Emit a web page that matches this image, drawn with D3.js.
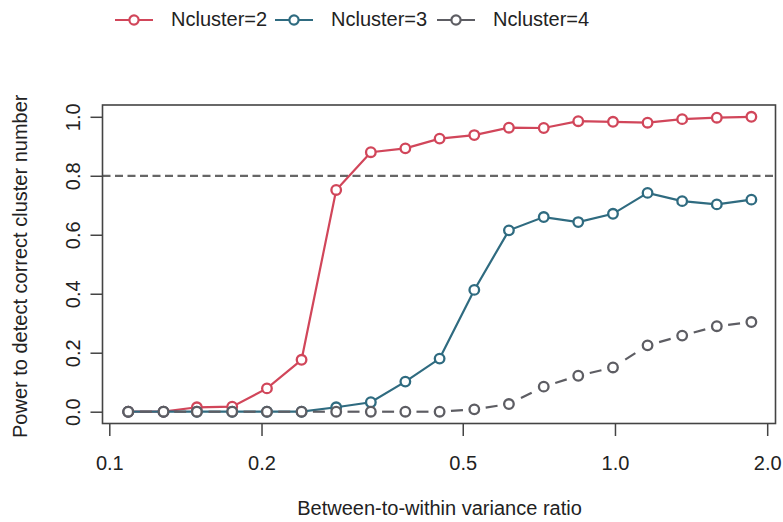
<!DOCTYPE html>
<html>
<head>
<meta charset="utf-8">
<script src="https://cdn.jsdelivr.net/npm/d3@7/dist/d3.min.js"></script>
<style>
  html, body { margin: 0; padding: 0; background: #fff; }
  svg { display: block; font-family: "Liberation Sans", Arial, sans-serif; }
</style>
</head>
<body>
<svg id="chart" width="783" height="522"></svg>
<script>
// Between-to-within variance ratios (x) and detection power for each cluster count
const ratios = [0.109, 0.128, 0.149, 0.175, 0.205, 0.240, 0.281, 0.329, 0.385, 0.450,
                0.527, 0.617, 0.723, 0.846, 0.991, 1.160, 1.358, 1.590, 1.861];
const power2 = [0.000, 0.000, 0.015, 0.017, 0.079, 0.176, 0.752, 0.880, 0.893, 0.926,
                0.938, 0.963, 0.962, 0.985, 0.983, 0.980, 0.992, 0.997, 1.000];
const power3 = [0.000, 0.000, 0.000, 0.000, 0.000, 0.000, 0.015, 0.032, 0.102, 0.180,
                0.413, 0.615, 0.660, 0.643, 0.671, 0.742, 0.714, 0.703, 0.719];
const power4 = [0.000, 0.000, 0.000, 0.000, 0.000, 0.000, 0.000, 0.000, 0.000, 0.000,
                0.008, 0.026, 0.085, 0.122, 0.150, 0.225, 0.258, 0.290, 0.304];
const seriesNames = ["Ncluster=2", "Ncluster=3", "Ncluster=4"];
const seriesColors = ["#d1465a", "#2f6b80", "#5d5d63"];
const xTickValues = [0.1, 0.2, 0.5, 1.0, 2.0];
const yTickValues = [0.0, 0.2, 0.4, 0.6, 0.8, 1.0];
const threshold = 0.8;

const svg = d3.select("#chart");
const box = { left: 102.5, right: 775.5, top: 105, bottom: 423.5 };

// log x scale padded by 4% of the data range on each side
const lx0 = Math.log10(ratios[0]), lx1 = Math.log10(ratios[ratios.length - 1]);
const padX = 0.04 * (lx1 - lx0);
const x = d3.scaleLog()
  .domain([Math.pow(10, lx0 - padX), Math.pow(10, lx1 + padX)])
  .range([box.left + 0.8, box.right + 0.8]);
const y = d3.scaleLinear().domain([-0.04, 1.04]).range([box.bottom, box.top]);

const fmt = d3.format(".1f");

// x axis
const xAxis = d3.axisBottom(x).tickValues(xTickValues).tickFormat(fmt).tickSize(12.5).tickPadding(20);
const gx = svg.append("g").attr("transform", `translate(0,${box.bottom})`).call(xAxis);
gx.select(".domain").remove();
gx.selectAll(".tick line").attr("stroke", "#444").attr("stroke-width", 1.5);
gx.selectAll(".tick text").attr("font-size", 20).attr("fill", "#222");

// y axis with rotated labels
const yAxis = d3.axisLeft(y).tickValues(yTickValues).tickFormat(fmt).tickSize(12).tickPadding(0);
const gy = svg.append("g").attr("transform", `translate(${box.left},0)`).call(yAxis);
gy.select(".domain").remove();
gy.selectAll(".tick line").attr("stroke", "#444").attr("stroke-width", 1.5);
gy.selectAll(".tick text")
  .attr("font-size", 20).attr("fill", "#222")
  .attr("x", null).attr("dy", null)
  .attr("text-anchor", "middle")
  .attr("transform", "translate(-22.5,0) rotate(-90)");

// threshold line
svg.append("line")
  .attr("x1", box.left).attr("x2", box.right)
  .attr("y1", y(threshold)).attr("y2", y(threshold))
  .attr("stroke", "#666").attr("stroke-width", 2.2)
  .attr("stroke-dasharray", "8,4.5");

// plot box
svg.append("rect")
  .attr("x", box.left).attr("y", box.top)
  .attr("width", box.right - box.left).attr("height", box.bottom - box.top)
  .attr("fill", "none").attr("stroke", "#444").attr("stroke-width", 1.6);

const seriesData = [power2, power3, power4].map((vals, i) => ({
  name: seriesNames[i], color: seriesColors[i], dashed: i === 2,
  pts: vals.map((v, j) => ({ x: ratios[j], y: v }))
}));

const line = d3.line().x(d => x(d.x)).y(d => y(d.y));

// series drawn in order, later ones on top
seriesData.forEach(s => {
  const g = svg.append("g");
  if (!s.dashed) {
    g.append("path").attr("d", line(s.pts))
      .attr("fill", "none").attr("stroke", s.color).attr("stroke-width", 2.2);
  } else {
    // one centred dash on each segment between markers
    const dashLen = 12;
    for (let k = 0; k < s.pts.length - 1; k++) {
      const ax = x(s.pts[k].x), ay = y(s.pts[k].y);
      const bx = x(s.pts[k + 1].x), by = y(s.pts[k + 1].y);
      const L = Math.hypot(bx - ax, by - ay);
      const t0 = (L - dashLen) / 2 / L, t1 = 1 - t0;
      g.append("line")
        .attr("x1", ax + (bx - ax) * t0).attr("y1", ay + (by - ay) * t0)
        .attr("x2", ax + (bx - ax) * t1).attr("y2", ay + (by - ay) * t1)
        .attr("stroke", s.color).attr("stroke-width", 2.2);
    }
  }
  g.selectAll("circle").data(s.pts).join("circle")
    .attr("cx", d => x(d.x)).attr("cy", d => y(d.y)).attr("r", 4.8)
    .attr("fill", "#fff").attr("stroke", s.color).attr("stroke-width", 2.3);
});

// legend
const legendX = [115, 275, 437];
seriesData.forEach((s, i) => {
  const g = svg.append("g").attr("transform", `translate(${legendX[i]},20)`);
  g.append("line").attr("x1", 0).attr("x2", 38).attr("y1", 0).attr("y2", 0)
    .attr("stroke", s.color).attr("stroke-width", 2.2);
  g.append("circle").attr("cx", 19).attr("cy", 0).attr("r", 4.6)
    .attr("fill", "#fff").attr("stroke", s.color).attr("stroke-width", 2.2);
  g.append("text").attr("x", 56).attr("y", 5.8)
    .attr("font-size", 20).attr("fill", "#222").text(s.name);
});

// axis titles
svg.append("text")
  .attr("x", (box.left + box.right) / 2 + 0.5).attr("y", 515)
  .attr("text-anchor", "middle").attr("font-size", 20).attr("fill", "#222")
  .text("Between-to-within variance ratio");
svg.append("text")
  .attr("transform", `translate(27,${(box.top + box.bottom) / 2 + 2}) rotate(-90)`)
  .attr("text-anchor", "middle").attr("font-size", 20).attr("fill", "#222")
  .text("Power to detect correct cluster number");
</script>
</body>
</html>
